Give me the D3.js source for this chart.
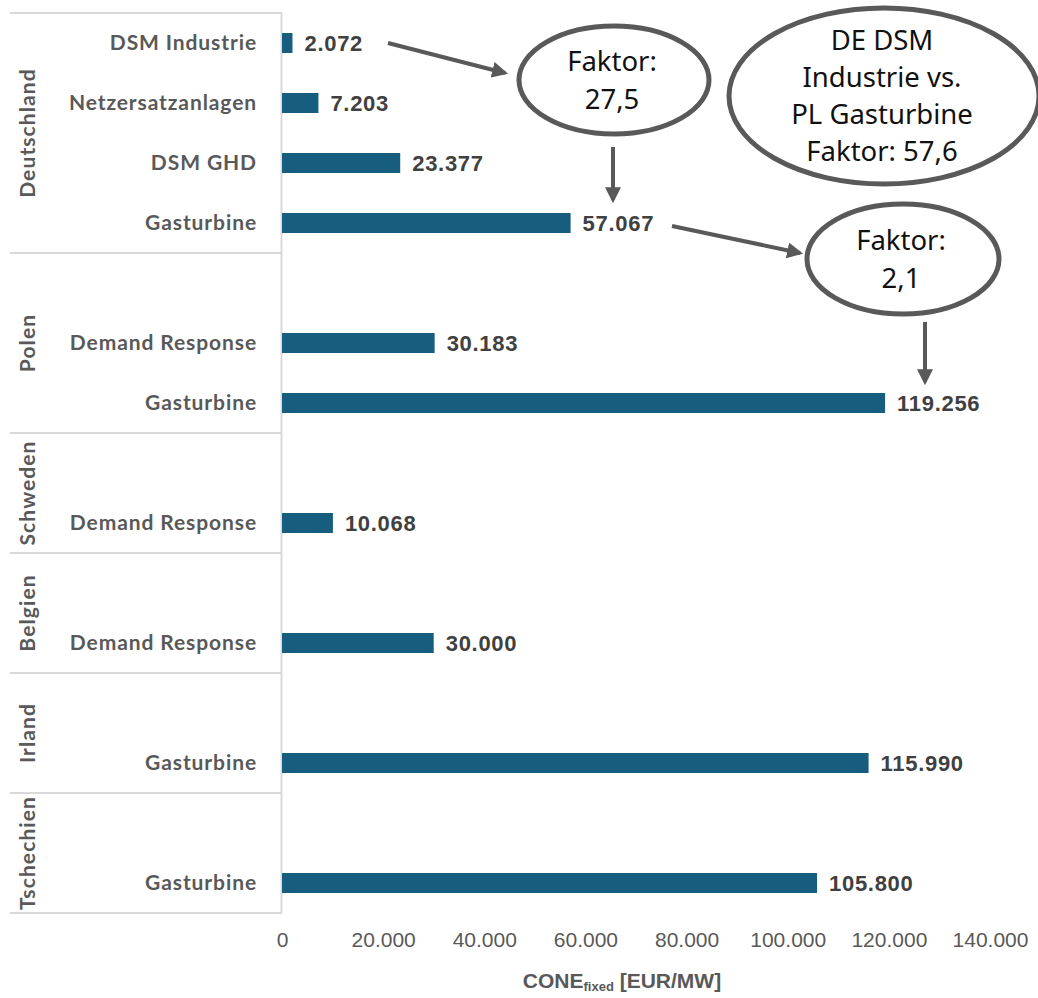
<!DOCTYPE html>
<html><head><meta charset="utf-8">
<script src="https://cdn.jsdelivr.net/npm/d3@7"></script>
<style>
html,body{margin:0;padding:0;background:#fff;}
svg{display:block;}
</style></head>
<body>
<svg id="chart" width="1038" height="998"></svg>
<script>
// ---- data ----
const groups = ["Deutschland", "Polen", "Schweden", "Belgien", "Irland", "Tschechien"];
const categories = ["DSM Industrie", "Netzersatzanlagen", "DSM GHD", "Gasturbine",
  "", "Demand Response", "Gasturbine",
  "", "Demand Response",
  "", "Demand Response",
  "", "Gasturbine",
  "", "Gasturbine"];
const categoryGroups = ["Deutschland", "Deutschland", "Deutschland", "Deutschland",
  "Polen", "Polen", "Polen",
  "Schweden", "Schweden",
  "Belgien", "Belgien",
  "Irland", "Irland",
  "Tschechien", "Tschechien"];
const values = [2072, 7203, 23377, 57067, null, 30183, 119256, null, 10068, null, 30000, null, 115990, null, 105800];
const valueLabels = ["2.072", "7.203", "23.377", "57.067", "", "30.183", "119.256", "", "10.068", "", "30.000", "", "115.990", "", "105.800"];
const xTicks = [0, 20000, 40000, 60000, 80000, 100000, 120000, 140000];
const xTickLabels = ["0", "20.000", "40.000", "60.000", "80.000", "100.000", "120.000", "140.000"];
const annotationTexts = [["Faktor:", "27,5"], ["DE DSM", "Industrie vs.", "PL Gasturbine", "Faktor: 57,6"], ["Faktor:", "2,1"]];

// ---- layout ----
const svg = d3.select("#chart");
const x0 = 282, x1 = 990, yTop = 13, yBot = 913;
const x = d3.scaleLinear().domain([0, 140000]).range([x0, x1]);
const idx = d3.range(categories.length);
const y = d3.scaleBand().domain(idx).range([yTop, yBot]).paddingInner(2/3).paddingOuter(1/3);
const step = y.step();

const gridCol = "#d9d9d9";
const barCol = "#175e7e";
const labelFont = "Lato, 'Noto Sans', sans-serif";
const numFont = "'Liberation Sans', Arial, sans-serif";

// group separators
const groupBounds = groups.map(g => {
  const ids = idx.filter(i => categoryGroups[i] === g);
  const top = y(ids[0]) - y.paddingOuter() * step;
  const bottom = y(ids[ids.length - 1]) + y.bandwidth() + y.paddingOuter() * step;
  return {g, top, bottom};
});
const seps = [yTop, ...groupBounds.map(d => d.bottom)];
svg.selectAll("line.sep").data(seps).enter().append("line")
  .attr("x1", 10).attr("x2", x0).attr("y1", d => d).attr("y2", d => d)
  .attr("stroke", gridCol).attr("stroke-width", 2);
svg.append("line").attr("x1", x0 - 0.5).attr("x2", x0 - 0.5).attr("y1", yTop).attr("y2", yBot)
  .attr("stroke", gridCol).attr("stroke-width", 2);

// group labels
svg.selectAll("text.grp").data(groupBounds).enter().append("text")
  .attr("transform", d => `translate(35,${(d.top + d.bottom) / 2}) rotate(-90)`)
  .attr("text-anchor", "middle")
  .attr("font-family", labelFont).attr("font-weight", 700)
  .attr("font-size", 21).attr("letter-spacing", 1.1).attr("fill", "#595959")
  .text(d => d.g);

// category labels
svg.selectAll("text.cat").data(idx.filter(i => categories[i] !== "")).enter().append("text")
  .attr("x", 257).attr("y", i => y(i) + y.bandwidth() / 2)
  .attr("dy", "0.35em").attr("text-anchor", "end")
  .attr("font-family", labelFont).attr("font-weight", 700)
  .attr("font-size", 21).attr("letter-spacing", 0.9).attr("fill", "#595959")
  .text(i => categories[i]);

// bars
const barIdx = idx.filter(i => values[i] != null);
svg.selectAll("rect.bar").data(barIdx).enter().append("rect")
  .attr("x", x(0)).attr("y", i => y(i))
  .attr("width", i => x(values[i]) - x(0)).attr("height", y.bandwidth())
  .attr("fill", barCol);

// value labels
svg.selectAll("text.val").data(barIdx).enter().append("text")
  .attr("x", i => x(values[i]) + 12).attr("y", i => y(i) + y.bandwidth() / 2)
  .attr("dy", "0.36em")
  .attr("font-family", numFont).attr("font-weight", 700)
  .attr("font-size", 22).attr("letter-spacing", 0.7).attr("fill", "#404040")
  .text(i => valueLabels[i]);

// x axis (no line, labels only)
const axis = d3.axisBottom(x).tickValues(xTicks).tickSize(0)
  .tickFormat((d, i) => xTickLabels[i]);
const ax = svg.append("g").attr("transform", `translate(0,${yBot + 16})`).call(axis);
ax.select(".domain").remove();
ax.selectAll("text").attr("font-family", numFont)
  .attr("font-size", 21).attr("fill", "#595959").attr("font-weight", 400);

// axis title
const title = svg.append("text").attr("x", 622).attr("y", 988).attr("text-anchor", "middle")
  .attr("font-family", numFont).attr("font-weight", 700)
  .attr("font-size", 21).attr("fill", "#595959");
title.append("tspan").text("CONE");
title.append("tspan").attr("font-size", 13).attr("dy", 3).text("fixed");
title.append("tspan").attr("dy", -3).text(" [EUR/MW]");

// ---- annotations ----
const annCol = "#595959";
const defs = svg.append("defs");
defs.append("marker").attr("id", "ah").attr("viewBox", "0 0 10 10")
  .attr("refX", 8).attr("refY", 5).attr("markerWidth", 4).attr("markerHeight", 4)
  .attr("markerUnits", "strokeWidth").attr("orient", "auto")
  .append("path").attr("d", "M0,0 L10,5 L0,10 z").attr("fill", annCol);

const ellipses = [
  {cx: 614, cy: 80, rx: 95, ry: 54, lh: 38, texts: annotationTexts[0]},
  {cx: 884, cy: 96, rx: 155, ry: 88, lh: 37, texts: annotationTexts[1]},
  {cx: 903, cy: 259, rx: 96, ry: 55, lh: 38, texts: annotationTexts[2]}
];
ellipses.forEach(e => {
  svg.append("ellipse").attr("cx", e.cx).attr("cy", e.cy).attr("rx", e.rx).attr("ry", e.ry)
    .attr("fill", "none").attr("stroke", annCol).attr("stroke-width", 5);
  const n = e.texts.length;
  e.texts.forEach((t, k) => {
    svg.append("text").attr("x", e.cx - 2).attr("y", e.cy + (k - (n - 1) / 2) * e.lh)
      .attr("dy", "0.36em").attr("text-anchor", "middle")
      .attr("font-family", "'Noto Sans', 'Open Sans', sans-serif")
      .attr("font-size", 27.5).attr("fill", "#111")
      .text(t);
  });
});

const arrows = [
  {x1: 388, y1: 43, x2: 505, y2: 73},
  {x1: 613, y1: 147, x2: 613, y2: 200},
  {x1: 672, y1: 226, x2: 800, y2: 253},
  {x1: 925, y1: 322, x2: 925, y2: 382}
];
svg.selectAll("line.arr").data(arrows).enter().append("line")
  .attr("x1", d => d.x1).attr("y1", d => d.y1).attr("x2", d => d.x2).attr("y2", d => d.y2)
  .attr("stroke", annCol).attr("stroke-width", 4).attr("marker-end", "url(#ah)");
</script>
</body></html>
